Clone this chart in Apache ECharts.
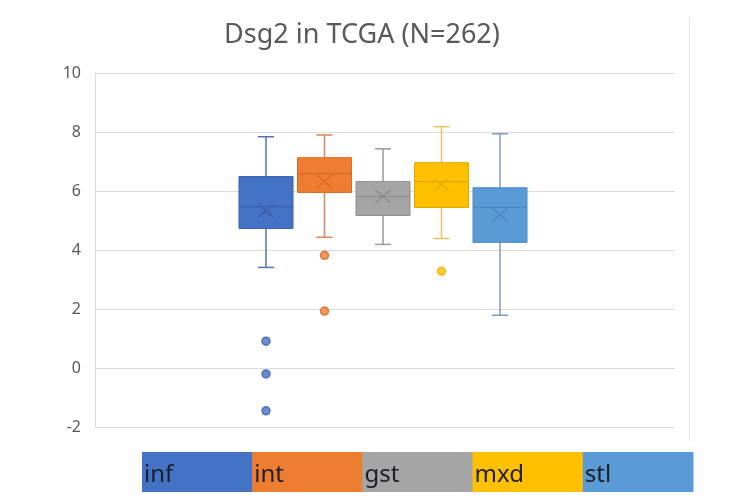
<!DOCTYPE html>
<html><head><meta charset="utf-8">
<script src="https://cdn.jsdelivr.net/npm/echarts@6/dist/echarts.min.js"></script>
<style>html,body{margin:0;padding:0;background:#fff}#c{width:748px;height:500px}</style>
</head><body><div id="c"></div>
<script>
// ---- data ----
const categories = ['inf', 'int', 'gst', 'mxd', 'stl'];
const whiskerLow  = [3.41, 4.43, 4.19, 4.39, 1.79];
const q1          = [4.73, 5.95, 5.17, 5.44, 4.26];
const median      = [5.47, 6.59, 5.81, 6.32, 5.44];
const q3          = [6.49, 7.13, 6.32, 6.96, 6.11];
const whiskerHigh = [7.84, 7.90, 7.43, 8.18, 7.94];
const means       = [5.33, 6.32, 5.81, 6.22, 5.20];
const outliers    = [[0.91, -0.20, -1.45], [3.82, 1.93], [], [3.28], []];
const yMin = -2, yMax = 10, yStep = 2;
const titleText = 'Dsg2 in TCGA (N=262)';

// ---- styles ----
const fillColors    = ['#4472C4', '#ED7D31', '#A5A5A5', '#FFC000', '#5B9BD5'];
const strokeColors  = ['#3A62AE', '#D96C25', '#8E8E8E', '#E0A800', '#4A88C2'];
const whiskerColors = ['#5773AE', '#D4875A', '#9A9A9A', '#E6C262', '#7E9DC2'];
const markColors    = ['#3C5CA3', '#D7671F', '#8A8A8A', '#E3AE00', '#4A85BD'];

const chart = echarts.init(document.getElementById('c'), null, {renderer: 'canvas'});

const boxData = categories.map((c, i) => [i, whiskerLow[i], q1[i], median[i], q3[i], whiskerHigh[i], means[i]]);
const outlierData = [];
outliers.forEach((arr, i) => arr.forEach(v => outlierData.push({
  value: [i, v],
  itemStyle: {color: fillColors[i], borderColor: markColors[i], borderWidth: 1.5}
})));

const bandX = 142, bandW = 110.2, bandY = 452, bandH = 40;
const graphics = [
  {type: 'text', x: 362, y: 35, style: {text: titleText, fill: '#595959', font: '27px "Noto Sans"', textAlign: 'center', textVerticalAlign: 'middle'}},
  {type: 'line', shape: {x1: 689.5, y1: 17, x2: 689.5, y2: 441}, style: {stroke: '#e4e4e4', lineWidth: 1}}
];
categories.forEach((c, i) => {
  graphics.push({type: 'rect', shape: {x: bandX + i * bandW, y: bandY, width: bandW + 0.5, height: bandH}, style: {fill: fillColors[i]}});
  graphics.push({type: 'text', x: bandX + i * bandW + 2, y: 475, style: {text: c, fill: '#1e1e28', font: '24px "Noto Sans"', textVerticalAlign: 'middle'}});
});

chart.setOption({
  animation: false,
  backgroundColor: '#fff',
  grid: [
    {left: 95, right: 73, top: 73, bottom: 73},
    {left: 236.75, right: 218.75, top: 73, bottom: 73}
  ],
  xAxis: [
    {gridIndex: 0, type: 'category', data: [''], show: false},
    {gridIndex: 1, type: 'category', data: categories, show: false}
  ],
  yAxis: [
    {gridIndex: 0, type: 'value', min: yMin, max: yMax, interval: yStep,
     axisLine: {show: true, lineStyle: {color: '#dcdcdc'}},
     axisTick: {show: false},
     axisLabel: {color: '#595959', fontSize: 16, fontFamily: 'Noto Sans', margin: 14},
     splitLine: {lineStyle: {color: '#dcdcdc', width: 1}}},
    {gridIndex: 1, type: 'value', min: yMin, max: yMax, interval: yStep, show: false, splitLine: {show: false}}
  ],
  series: [
    {
      type: 'custom', xAxisIndex: 1, yAxisIndex: 1, data: boxData,
      renderItem: function (params, api) {
        const i = api.value(0);
        const x = api.coord([i, 0])[0];
        const y = k => api.coord([i, api.value(k)])[1];
        const hw = 27, cap = 8, mx = 7.5, my = 6.5;
        const wc = whiskerColors[i], sc = strokeColors[i], mc = markColors[i];
        const yLo = y(1), yQ1 = y(2), yMed = y(3), yQ3 = y(4), yHi = y(5), yMean = y(6);
        return {type: 'group', children: [
          {type: 'line', shape: {x1: x, y1: yHi, x2: x, y2: yQ3}, style: {stroke: wc, lineWidth: 1.5}},
          {type: 'line', shape: {x1: x - cap, y1: yHi, x2: x + cap, y2: yHi}, style: {stroke: wc, lineWidth: 1.5}},
          {type: 'line', shape: {x1: x, y1: yQ1, x2: x, y2: yLo}, style: {stroke: wc, lineWidth: 1.5}},
          {type: 'line', shape: {x1: x - cap, y1: yLo, x2: x + cap, y2: yLo}, style: {stroke: wc, lineWidth: 1.5}},
          {type: 'rect', shape: {x: x - hw, y: yQ3, width: hw * 2, height: yQ1 - yQ3}, style: {fill: fillColors[i], stroke: sc, lineWidth: 1}},
          {type: 'line', shape: {x1: x - hw, y1: yMed, x2: x + hw, y2: yMed}, style: {stroke: sc, lineWidth: 1.2}},
          {type: 'line', shape: {x1: x - mx, y1: yMean - my, x2: x + mx, y2: yMean + my}, style: {stroke: mc, lineWidth: 1.3}},
          {type: 'line', shape: {x1: x - mx, y1: yMean + my, x2: x + mx, y2: yMean - my}, style: {stroke: mc, lineWidth: 1.3}}
        ]};
      }
    },
    {
      type: 'scatter', xAxisIndex: 1, yAxisIndex: 1, data: outlierData,
      symbol: 'circle', symbolSize: 8
    }
  ],
  graphic: graphics
});
</script>
</body></html>
